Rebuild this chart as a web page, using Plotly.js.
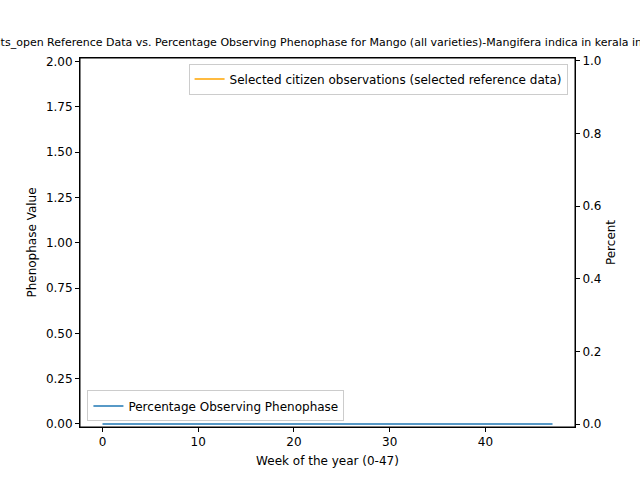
<!DOCTYPE html>
<html><head><script src="https://cdn.plot.ly/plotly-3.0.1.min.js"></script></head>
<body style="margin:0">
<div id="c" style="width:640px;height:480px"></div>
<script>
const weeks = Array.from({length:48},(_,i)=>i);
const percentValues = weeks.map(()=>0);
const refWeeks = [null];
const refValues = [null];
const data = [
 {x:refWeeks, y:refValues, type:'scatter', mode:'lines', name:'Selected citizen observations (selected reference data)', line:{color:'orange',width:1.5}, yaxis:'y', legend:'legend', showlegend:true},
 {x:weeks, y:percentValues, type:'scatter', mode:'lines', name:'Percentage Observing Phenophase', line:{color:'#1f77b4',width:1.5}, yaxis:'y2', legend:'legend2', showlegend:true}
];
const ax = {showgrid:false, zeroline:false, showline:true, linecolor:'black', mirror:false, ticks:'outside', ticklen:4, tickcolor:'black', tickfont:{size:12}};
const layout = {
 width:640, height:480, paper_bgcolor:'white', plot_bgcolor:'white',
 font:{family:'DejaVu Sans', color:'black', size:12},
 margin:{l:80, r:65, t:58, b:53},
 title:{text:'Fruits_open Reference Data vs. Percentage Observing Phenophase for Mango (all varieties)-Mangifera indica in kerala in 2019', font:{size:11}, x:0.511, xanchor:'center', y:0.912, yanchor:'middle'},
 xaxis:Object.assign({}, ax, {range:[-2.35,49.35], dtick:10, mirror:true, title:{text:'Week of the year (0-47)', font:{size:12}, standoff:8}}),
 yaxis:Object.assign({}, ax, {range:[-0.017,2.02], dtick:0.25, tickformat:'.2f', mirror:false, title:{text:'Phenophase Value', font:{size:12}, standoff:6}}),
 yaxis2:Object.assign({}, ax, {overlaying:'y', side:'right', range:[-0.008,1.008], dtick:0.2, tickformat:'.1f', title:{text:'Percent', font:{size:12}, standoff:6}}),
 legend:{x:0.985, y:0.985, xanchor:'right', yanchor:'top', bordercolor:'#ccc', borderwidth:1, bgcolor:'rgba(255,255,255,0.8)', font:{size:12}},
 legend2:{x:0.015, y:0.015, xanchor:'left', yanchor:'bottom', bordercolor:'#ccc', borderwidth:1, bgcolor:'rgba(255,255,255,0.8)', font:{size:12}},
 shapes:[{type:'rect', xref:'paper', yref:'paper', x0:0, x1:1, y0:0, y1:1, line:{color:'black', width:1}}]
};
Plotly.newPlot('c', data, layout, {staticPlot:true});
</script></body></html>
